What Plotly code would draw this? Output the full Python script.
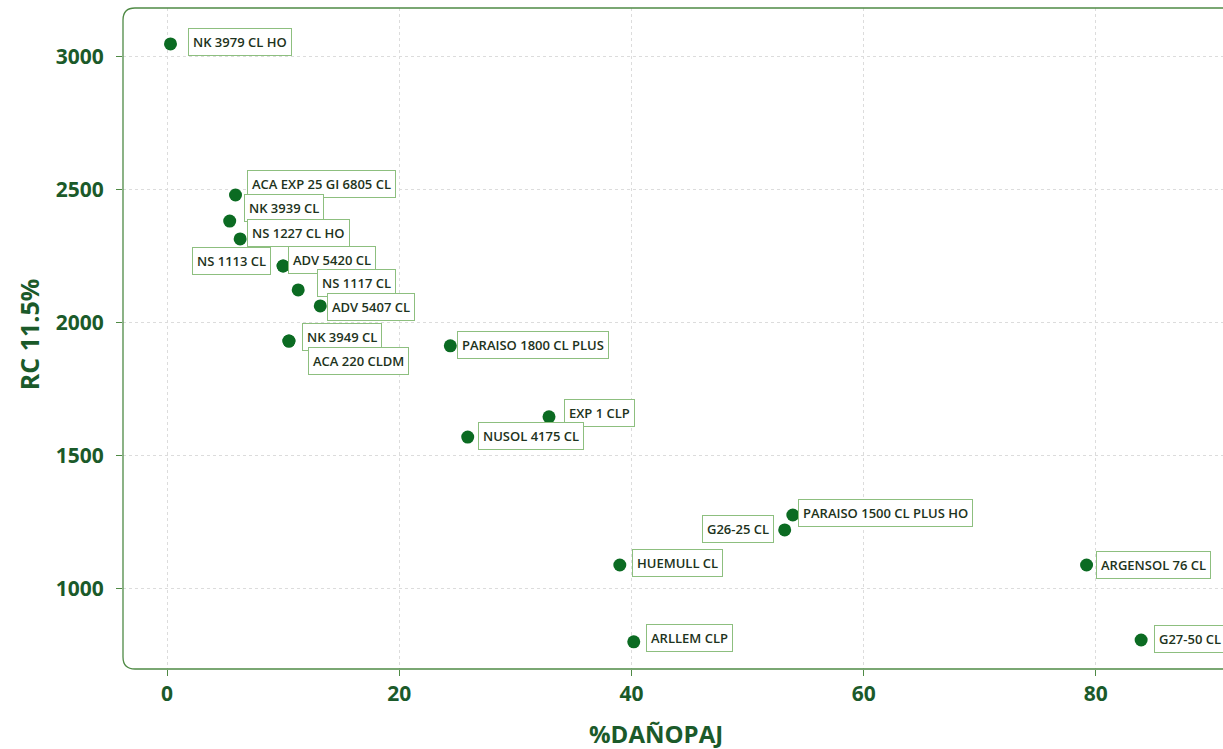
import plotly.graph_objects as go

# ---- data ----
hybrids = ["NK 3979 CL HO", "ACA EXP 25 GI 6805 CL", "NK 3939 CL", "NS 1227 CL HO",
           "NS 1113 CL", "ADV 5420 CL", "NS 1117 CL", "ADV 5407 CL", "NK 3949 CL",
           "ACA 220 CLDM", "PARAISO 1800 CL PLUS", "EXP 1 CLP", "NUSOL 4175 CL",
           "PARAISO 1500 CL PLUS HO", "G26-25 CL", "HUEMULL CL", "ARGENSOL 76 CL",
           "ARLLEM CLP", "G27-50 CL"]
dano_paj = [0.3, 5.9, 5.4, 6.3, 10.0, 10.0, 11.3, 13.2, 10.5, 10.5, 24.4, 32.9, 25.9,
            53.9, 53.2, 39.0, 79.2, 40.2, 83.9]
rc_115 = [3049, 2481, 2383, 2316, 2214, 2214, 2124, 2064, 1932, 1932, 1914, 1647, 1571,
          1278, 1222, 1090, 1090, 801, 808]

x_ticks = [0, 20, 40, 60, 80]
y_ticks = [1000, 1500, 2000, 2500, 3000]
x_title = "%DAÑOPAJ"
y_title = "RC 11.5%"

# label offsets (pixels) for the repelled labels
label_dx = [70, 86, 54, 58, -52, 49, 58, 51, 53, 70, 83, 50, 63, 93, -47, 58, 67, 56, 49]
label_dy = [-2, -11, -13, -6, -5, -6, -7, 1, -4, 20, -1, -4, -1, -2, -1, -2, 0, -4, -1]

DOT = "#0b6b22"
DARK = "#1b5a2a"
AXIS = "#4f8a45"
BOX = "#8dbf7f"

fig = go.Figure()
fig.add_trace(go.Scatter(
    x=dano_paj, y=rc_115, mode="markers", text=hybrids,
    marker=dict(color=DOT, size=13, line=dict(width=0)),
    hovertemplate="%{text}<br>%{x}, %{y}<extra></extra>", showlegend=False))

for name, x, y, dx, dy in zip(hybrids, dano_paj, rc_115, label_dx, label_dy):
    fig.add_annotation(
        x=x, y=y, text=name, showarrow=True, ax=dx, ay=dy,
        arrowcolor="rgba(0,0,0,0)", arrowwidth=0.1,
        font=dict(family="Open Sans", size=13, color="#1d3320", weight=600),
        bgcolor="white", bordercolor=BOX, borderwidth=1, borderpad=4)

# axis titles
fig.add_annotation(xref="paper", yref="paper", x=0.4845, y=0, yshift=-64,
                   yanchor="middle", xanchor="center", showarrow=False, text=x_title,
                   font=dict(family="Open Sans", size=24, color=DARK, weight="bold"))
fig.add_annotation(xref="paper", yref="paper", x=0, xshift=-94, y=0.505,
                   xanchor="center", yanchor="middle", showarrow=False, text=y_title,
                   textangle=-90,
                   font=dict(family="Open Sans", size=25, color=DARK, weight="bold"))

# rounded panel border (left, top, bottom)
W, H = 1100.0, 661.0
r = 12.0
rx, ry = r / W, r / H
path = (f"M 1.02,1 L {rx},1 Q 0,1 0,{1-ry} L 0,{ry} Q 0,0 {rx},0 L 1.02,0")
fig.add_shape(type="path", xref="paper", yref="paper", path=path,
              line=dict(color=AXIS, width=1.3), layer="above")

fig.update_layout(
    width=1223, height=749,
    margin=dict(l=123, r=0, t=8, b=80),
    paper_bgcolor="white", plot_bgcolor="white",
    font=dict(family="Open Sans", color=DARK),
    xaxis=dict(
        range=[-3.79, 90.95], tickvals=x_ticks, ticks="outside", ticklen=6,
        tickcolor=AXIS, showline=False, zeroline=False,
        showgrid=True, gridcolor="#dcdcdc", griddash="dot", gridwidth=1,
        tickfont=dict(size=21, color=DARK, weight="bold"),
        automargin=False),
    yaxis=dict(
        range=[699, 3184], tickvals=y_ticks, ticks="outside", ticklen=6,
        tickcolor=AXIS, showline=False, zeroline=False,
        showgrid=True, gridcolor="#dcdcdc", griddash="dot", gridwidth=1,
        tickfont=dict(size=21, color=DARK, weight="bold"),
        ticklabelstandoff=8,
        automargin=False),
)

fig.write_html("out.html", config={"displayModeBar": False},
               post_script="document.body.style.margin='0';")
